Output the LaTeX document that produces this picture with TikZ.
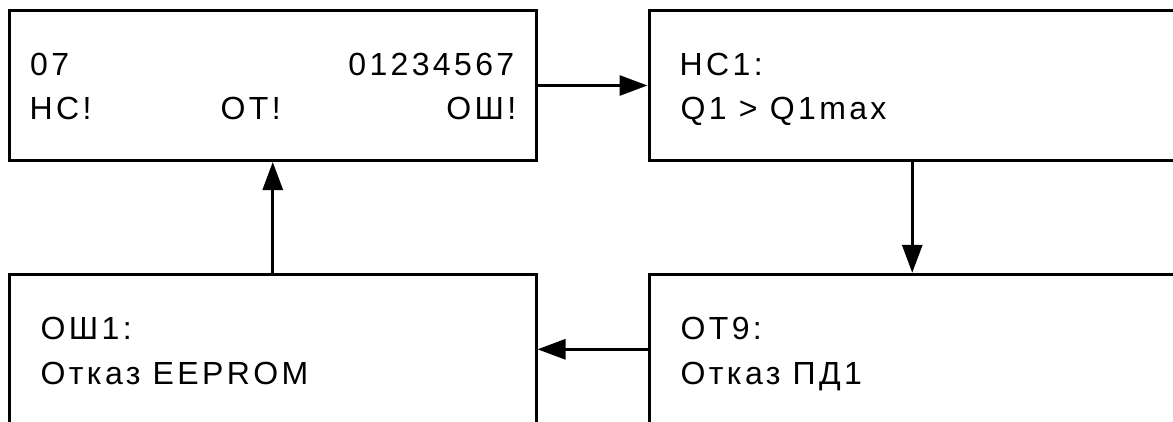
\documentclass[tikz,border=0pt]{standalone}
\usepackage{fontspec}
\setmainfont{Liberation Sans}[LetterSpace=10.5]
\usetikzlibrary{arrows.meta}
\begin{document}
\begin{tikzpicture}[x=1pt,y=-1pt,
  panel/.style={draw, line width=3pt, rectangle, minimum width=526.5pt, minimum height=150pt, inner sep=0pt},
  txt/.style={inner sep=0pt, font=\fontsize{32}{38}\selectfont},
  conn/.style={line width=3pt, -{Triangle[length=28pt,width=20pt]}}]
\useasboundingbox (0,0) rectangle (1173,421);
\fill[white] (0,0) rectangle (1173,421);
\clip (0,0) rectangle (1173,421);
\node[panel] (tl) at (272.75,85.5) {};
\node[panel] (tr) at (912.25,85.5) {};
\node[panel] (bl) at (272.75,349.3) {};
\node[panel] (br) at (912.25,349.3) {};
\draw[conn] (tl.east) -- (tr.west);
\draw[conn] (tr.south) -- (br.north);
\draw[conn] (br.west) -- (bl.east);
\draw[conn] (bl.north) -- (tl.south);
\node[txt, anchor=base west] (t1) at (30,75) {07};
\node[txt, anchor=base east] (t2) at (514.5,75) {01234567};
\node[txt, anchor=base west] (t3) at (29.5,119) {НС!};
\node[txt, anchor=base west] (t4) at (220.5,119) {ОТ!};
\node[txt, anchor=base east] (t5) at (516.5,119) {ОШ!};
\node[txt, anchor=base west] (t6) at (679.5,75) {НС1:};
\node[txt, anchor=base west] (t7) at (680.5,119) {Q1 > Q1max};
\node[txt, anchor=base west] (t8) at (40.5,339) {ОШ1:};
\node[txt, anchor=base west] (t9) at (40.5,384) {Отказ EEPROM};
\node[txt, anchor=base west] (t10) at (680.5,339) {ОТ9:};
\node[txt, anchor=base west] (t11) at (680.5,384) {Отказ ПД1};
\end{tikzpicture}
\end{document}
